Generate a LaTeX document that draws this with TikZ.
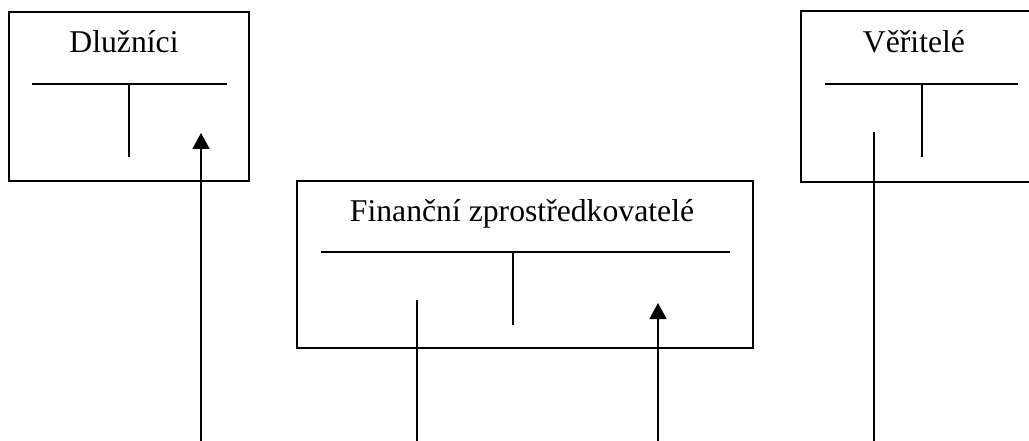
\documentclass[tikz,border=0pt]{standalone}
\usepackage{fontspec}
\setmainfont{Liberation Serif}
\usetikzlibrary{arrows.meta}
\begin{document}
\begin{tikzpicture}[x=1pt,y=-1pt,line width=1.8pt,
  box/.style={draw,line width=1.8pt,inner sep=0pt},
  openbox/.style={line width=1.8pt},
  lbl/.style={font=\fontsize{31.7}{36}\selectfont,anchor=base,inner sep=0pt},
  tline/.style={line width=1.8pt},
  flow/.style={line width=1.8pt,-{Triangle[width=17pt,length=16pt]}},
  plain/.style={line width=1.8pt}]
\useasboundingbox (0,0) rectangle (1029,441);
\clip (0,0) rectangle (1029,441);
\fill[white] (0,0) rectangle (1029,441);
% boxes
\node[box,minimum width=240pt,minimum height=169pt] (deb) at (129,96.5) {};
\node[box,minimum width=456pt,minimum height=167pt] (fin) at (525,264.5) {};
\node[inner sep=0pt,minimum width=240pt,minimum height=169pt] (cre) at (922,96.5) {};
\draw[openbox] ([xshift=20pt]cre.north east) -- (cre.north west) -- (cre.south west) -- ([xshift=20pt]cre.south east);
% labels
\node[lbl] (tdeb) at (124,53) {Dlužníci};
\node[lbl] (tfin) at (522,222) {Finanční zprostředkovatelé};
\node[lbl] (tcre) at (914,53) {Věřitelé};
% T-accounts
\draw[tline] (32,84) -- (227,84) (129,84) -- (129,157);
\draw[tline] (321,252) -- (730,252) (513,252) -- (513,325);
\draw[tline] (825,84) -- (1018,84) (922,84) -- (922,157);
% connector endpoints
\coordinate (b1) at (201,441); \coordinate (e1) at (201,133);
\coordinate (b2) at (417,441); \coordinate (e2) at (417,300);
\coordinate (b3) at (658,441); \coordinate (e3) at (658,303);
\coordinate (b4) at (874,441); \coordinate (e4) at (874,132);
\draw[flow] (b1) -- (e1);
\draw[plain] (b2) -- (e2);
\draw[flow] (b3) -- (e3);
\draw[plain] (b4) -- (e4);
\end{tikzpicture}
\end{document}
